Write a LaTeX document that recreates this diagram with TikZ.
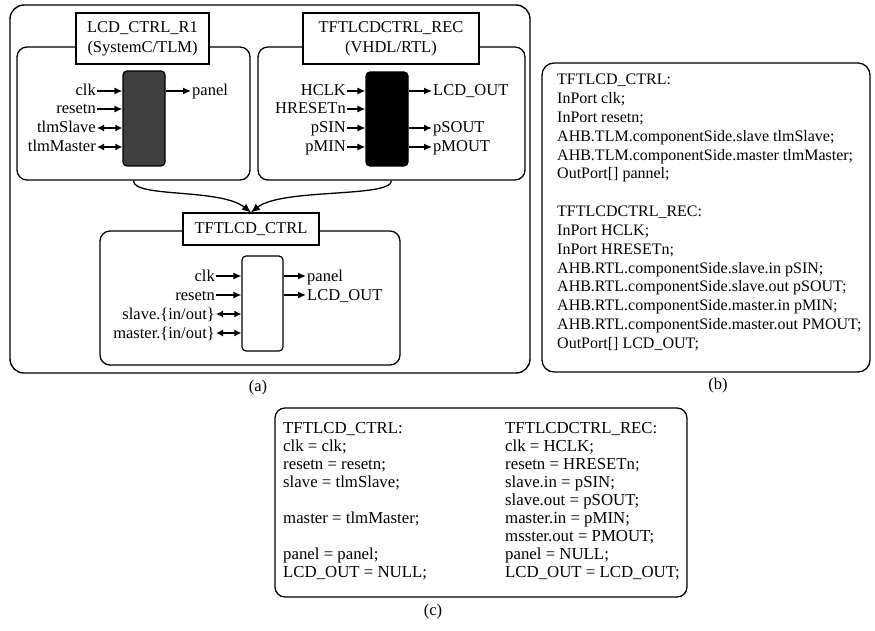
\documentclass[tikz,border=0pt]{standalone}
\usepackage{fontspec}
\setmainfont{Liberation Serif}
\usetikzlibrary{arrows.meta}
\newcommand{\fs}{\fontsize{16.5}{19}\selectfont}
\newcommand{\fsb}{\fontsize{16}{19}\selectfont}
\newcommand{\fsc}{\fontsize{16.8}{19}\selectfont}
\begin{document}
\begin{tikzpicture}[x=1pt,y=-1pt,
  bigbox/.style={draw, line width=1.4pt, rounded corners=14pt, inner sep=0pt},
  inbox/.style={draw, line width=1.3pt, rounded corners=10pt, inner sep=0pt},
  title/.style={draw, line width=1.2pt, fill=white, align=center, inner sep=0pt, font=\fontsize{16.5}{20}\selectfont},
  blk/.style={draw, line width=1.2pt, rounded corners=4pt, inner sep=0pt},
  port/.style={font=\fs, inner sep=1pt, text height=12pt, text depth=2pt},
  txt/.style={inner sep=0pt, anchor=base west},
  arr/.style={line width=1.3pt, -{Latex[length=8pt,width=7pt]}},
  darr/.style={line width=1.3pt, {Latex[length=7pt,width=7pt]}-{Latex[length=7pt,width=7pt]}},
  curv/.style={line width=1.3pt, -{Latex[length=9pt,width=8pt]}}
]
\useasboundingbox (0,0) rectangle (875,631);

% ---------- panel (a) ----------
\node[bigbox, minimum width=520, minimum height=368] (outa) at (270,189) {};
\node[inbox, minimum width=233, minimum height=133] (in1) at (133.5,113.5) {};
\node[inbox, minimum width=267, minimum height=133] (in2) at (391.5,113.5) {};
\node[inbox, minimum width=300, minimum height=134] (in3) at (250,298) {};

\node[title, minimum width=133, minimum height=51] (t1) at (142.5,38.5) {LCD\_CTRL\_R1\\(SystemC/TLM)};
\node[title, minimum width=176, minimum height=51] (t2) at (391,38.5) {TFTLCDCTRL\_REC\\(VHDL/RTL)};
\node[title, minimum width=136, minimum height=32] (t3) at (251,229) {TFTLCD\_CTRL};

% blocks
\node[blk, fill=black!75, minimum width=42, minimum height=95] (b1) at (144,118.5) {};
\node[blk, fill=black, minimum width=42, minimum height=94] (b2) at (387,119) {};
\node[blk, fill=white, minimum width=41, minimum height=95] (b3) at (262.5,303.5) {};

% block 1 ports
\node[port, anchor=east] (p1a) at (97,91) {clk};
\node[port, anchor=east] (p1b) at (97,109) {resetn};
\node[port, anchor=east] (p1c) at (97,128) {tlmSlave};
\node[port, anchor=east] (p1d) at (97,147) {tlmMaster};
\node[port, anchor=west] (o1a) at (191,91) {panel};
\draw[arr] (p1a) -- (p1a -| b1.west);
\draw[arr] (p1b) -- (p1b -| b1.west);
\draw[darr] (p1c) -- (p1c -| b1.west);
\draw[darr] (p1d) -- (p1d -| b1.west);
\draw[arr] (o1a -| b1.east) -- (o1a);

% block 2 ports
\node[port, anchor=east] (p2a) at (347,91) {HCLK};
\node[port, anchor=east] (p2b) at (347,109) {HRESETn};
\node[port, anchor=east] (p2c) at (347,128) {pSIN};
\node[port, anchor=east] (p2d) at (347,147) {pMIN};
\node[port, anchor=west] (o2a) at (432,91) {LCD\_OUT};
\node[port, anchor=west] (o2b) at (432,128) {pSOUT};
\node[port, anchor=west] (o2c) at (432,147) {pMOUT};
\draw[arr] (p2a) -- (p2a -| b2.west);
\draw[arr] (p2b) -- (p2b -| b2.west);
\draw[arr] (p2c) -- (p2c -| b2.west);
\draw[arr] (p2d) -- (p2d -| b2.west);
\draw[arr] (o2a -| b2.east) -- (o2a);
\draw[arr] (o2b -| b2.east) -- (o2b);
\draw[arr] (o2c -| b2.east) -- (o2c);

% block 3 ports
\node[port, anchor=east] (p3a) at (216,276) {clk};
\node[port, anchor=east] (p3b) at (216,295) {resetn};
\node[port, anchor=east] (p3c) at (216,314) {slave.\{in/out\}};
\node[port, anchor=east] (p3d) at (216,333) {master.\{in/out\}};
\node[port, anchor=west] (o3a) at (306,276) {panel};
\node[port, anchor=west] (o3b) at (306,295) {LCD\_OUT};
\draw[arr] (p3a) -- (p3a -| b3.west);
\draw[arr] (p3b) -- (p3b -| b3.west);
\draw[darr] (p3c) -- (p3c -| b3.west);
\draw[darr] (p3d) -- (p3d -| b3.west);
\draw[arr] (o3a -| b3.east) -- (o3a);
\draw[arr] (o3b -| b3.east) -- (o3b);

% merge curves
\draw[curv] (in1.south) .. controls (133,198) and (220,188) .. (t3.north);
\draw[curv] (in2.south) .. controls (391,198) and (282,188) .. (t3.north);

\node[font=\fs, inner sep=0pt] (la) at (258,388) {(a)};

% ---------- panel (b) ----------
\node[bigbox, rounded corners=12pt, line width=1.3pt, minimum width=328, minimum height=309] (outb) at (706,217.5) {};
\foreach \i/\t in {0/{TFTLCD\_CTRL:},1/{InPort clk;},2/{InPort resetn;},
  3/{AHB.TLM.componentSide.slave tlmSlave;},4/{AHB.TLM.componentSide.master tlmMaster;},
  5/{OutPort[] pannel;},7/{TFTLCDCTRL\_REC:},8/{InPort HCLK;},9/{InPort HRESETn;},
  10/{AHB.RTL.componentSide.slave.in pSIN;},11/{AHB.RTL.componentSide.slave.out pSOUT;},
  12/{AHB.RTL.componentSide.master.in pMIN;},13/{AHB.RTL.componentSide.master.out PMOUT;},
  14/{OutPort[] LCD\_OUT;}}
  \node[txt, font=\fsb] (bl\i) at (557,85+18.8*\i) {\t};
\node[font=\fs, inner sep=0pt] (lb) at (718,386) {(b)};

% ---------- panel (c) ----------
\node[bigbox, rounded corners=10pt, line width=1.3pt, minimum width=412, minimum height=189] (outc) at (481,502.5) {};
\foreach \i/\t in {0/{TFTLCD\_CTRL:},1/{clk = clk;},2/{resetn = resetn;},3/{slave = tlmSlave;},
  5/{master = tlmMaster;},7/{panel = panel;},8/{LCD\_OUT = NULL;}}
  \node[txt, font=\fsc] (cl\i) at (283,433+18.1*\i) {\t};
\foreach \i/\t in {0/{TFTLCDCTRL\_REC:},1/{clk = HCLK;},2/{resetn = HRESETn;},3/{slave.in = pSIN;},
  4/{slave.out = pSOUT;},5/{master.in = pMIN;},6/{msster.out = PMOUT;},7/{panel = NULL;},8/{LCD\_OUT = LCD\_OUT;}}
  \node[txt, font=\fsc] (cr\i) at (505,433+18.1*\i) {\t};
\node[font=\fs, inner sep=0pt] (lc) at (433,612) {(c)};
\end{tikzpicture}
\end{document}
